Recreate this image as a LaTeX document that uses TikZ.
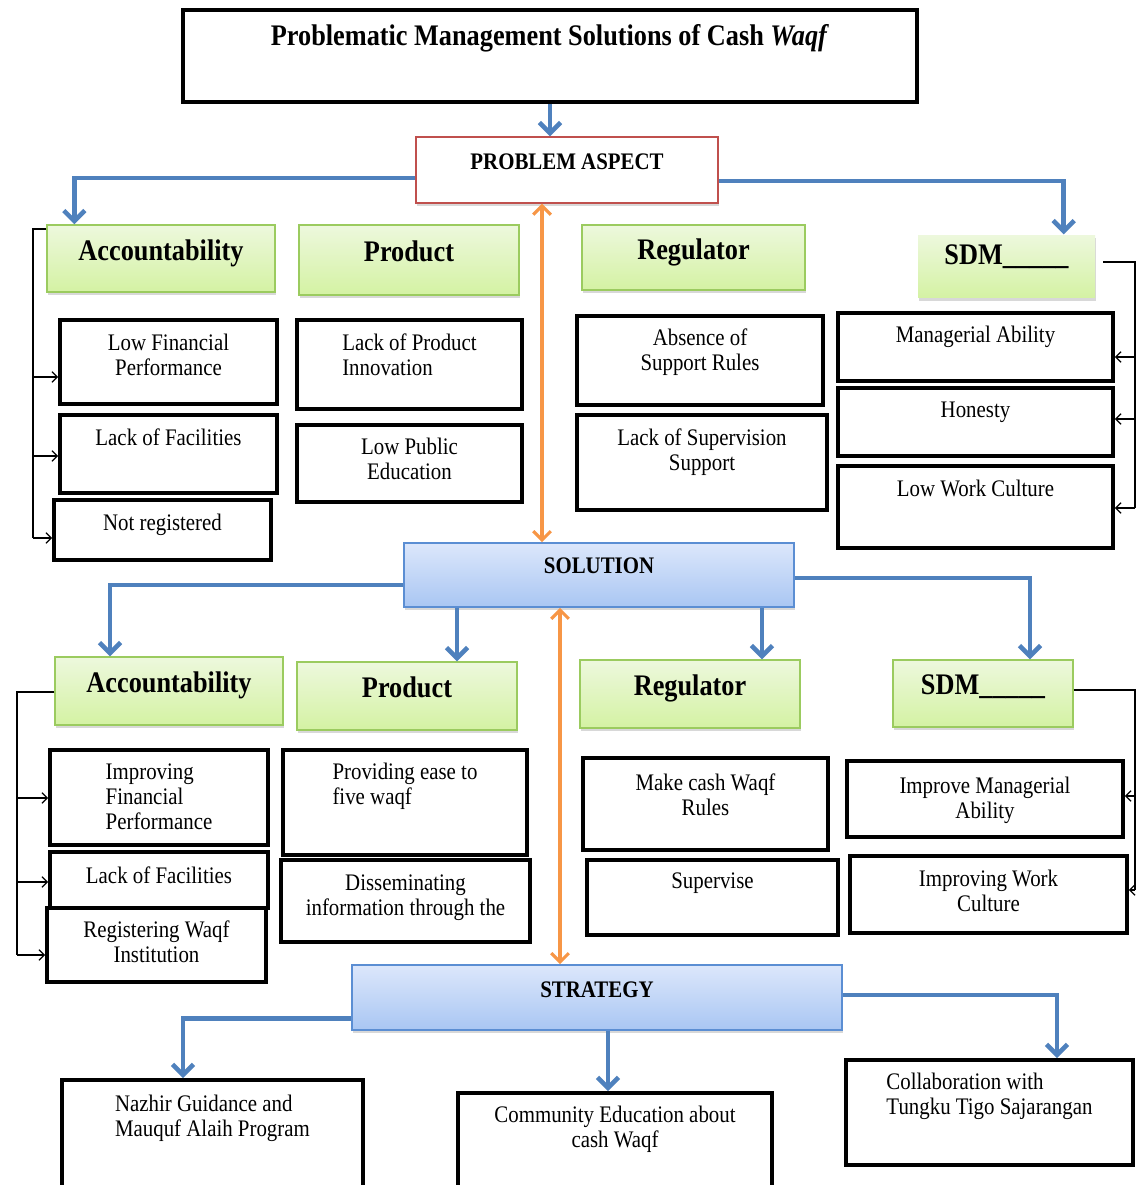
\documentclass[tikz,border=0pt]{standalone}
\usepackage{fontspec}
\setmainfont{Liberation Serif}[FakeStretch=0.88]
\usetikzlibrary{arrows.meta,shadows}

\definecolor{flowblue}{HTML}{4F81BD}
\definecolor{linkorange}{HTML}{F79646}
\definecolor{aspectred}{HTML}{C0504D}
\definecolor{headedge}{HTML}{9BCB5F}
\definecolor{headtop}{HTML}{EDF8DD}
\definecolor{headbot}{HTML}{D4F2A3}
\definecolor{maintop}{HTML}{DCE7FB}
\definecolor{mainbot}{HTML}{A9C6F3}
\definecolor{mainedge}{HTML}{5B8ED3}

\begin{document}
\begin{tikzpicture}[x=0.02cm, y=-0.02cm,
    titlebox/.style={draw, line width=2.4pt, inner sep=0pt, font=\fontsize{17}{20}\selectfont\bfseries},
    aspect/.style={draw=aspectred, line width=0.8pt, fill=white, inner sep=0pt,
      font=\fontsize{13.5}{16}\selectfont\bfseries,
      drop shadow={opacity=0.3, shadow xshift=0.6pt, shadow yshift=-1.5pt}},
    mainbox/.style={draw=mainedge, line width=0.9pt, top color=maintop, bottom color=mainbot, inner sep=0pt,
      font=\fontsize{13.5}{16}\selectfont\bfseries,
      drop shadow={opacity=0.3, shadow xshift=0.6pt, shadow yshift=-1.5pt}},
    headbox/.style={draw=headedge, line width=0.8pt, top color=headtop, bottom color=headbot, inner sep=0pt,
      text depth=10pt, font=\fontsize{17}{20}\selectfont\bfseries,
      drop shadow={opacity=0.3, shadow xshift=0.6pt, shadow yshift=-1.5pt}},
    itembox/.style={draw, line width=2.2pt, fill=white, align=center, inner sep=0pt,
      font=\fontsize{13.5}{14.2}\selectfont},
    flow/.style={draw=flowblue, line width=2.6pt, -{Straight Barb[length=6pt, width=12pt]}},
    link/.style={draw=linkorange, line width=1.8pt,
      {Straight Barb[length=5pt, width=10pt]}-{Straight Barb[length=5pt, width=10pt]}},
    tie/.style={line width=0.7pt},
    tiearrow/.style={tie, -{Straight Barb[length=3pt, width=6pt]}},
    lift/.style={text depth=#1}
  ]
  \useasboundingbox (0,0) rectangle (1137,1185);
  \clip (0,0) rectangle (1137,1185);
  \fill[white] (0,0) rectangle (1137,1185);

  \node (title) at (550,56) [titlebox, minimum width=14.68cm, minimum height=1.84cm, lift=24pt] {Problematic Management Solutions of Cash \textit{Waqf}};
  \node (pa) at (567,170) [aspect, minimum width=6.04cm, minimum height=1.32cm, lift=9pt] {PROBLEM ASPECT};

  % problem aspect
  \node (ha1) at (161,258.5) [headbox, minimum width=4.56cm, minimum height=1.34cm] {Accountability};
  \node (hp1) at (409,260) [headbox, minimum width=4.4cm, minimum height=1.4cm] {Product};
  \node (hr1) at (693.5,257.5) [headbox, minimum width=4.46cm, minimum height=1.3cm] {Regulator};
  \node (hs1) at (1006.5,266.5) [headbox, draw=none, minimum width=3.54cm, minimum height=1.26cm, lift=13pt] {SDM\_\_\_\_\_};

  \node (a1) at (168.5,362) [itembox, minimum width=4.34cm, minimum height=1.68cm, lift=7.8pt] {Low Financial\\Performance};
  \node (a2) at (168.5,454) [itembox, minimum width=4.34cm, minimum height=1.56cm, lift=19pt] {Lack of Facilities};
  \node (a3) at (162.5,530) [itembox, minimum width=4.34cm, minimum height=1.2cm, lift=9pt] {Not registered};
  \node (p1) at (409.5,364.5) [itembox, align=left, minimum width=4.5cm, minimum height=1.78cm, lift=10.8pt] {Lack of Product\\Innovation};
  \node (p2) at (409.5,463.5) [itembox, minimum width=4.5cm, minimum height=1.54cm, lift=5.8pt] {Low Public\\Education};
  \node (r1) at (700,360.5) [itembox, minimum width=4.92cm, minimum height=1.78cm, lift=12.8pt] {Absence of\\Support Rules};
  \node (r2) at (702,462.5) [itembox, minimum width=5cm, minimum height=1.9cm, lift=14.8pt] {Lack of Supervision\\Support};
  \node (s1) at (975.5,347) [itembox, minimum width=5.5cm, minimum height=1.36cm, lift=14pt] {Managerial Ability};
  \node (s2) at (975.5,422) [itembox, minimum width=5.5cm, minimum height=1.36cm, lift=14pt] {Honesty};
  \node (s3) at (975.5,507) [itembox, minimum width=5.5cm, minimum height=1.64cm, lift=21pt] {Low Work Culture};

  % solution
  \node (sol) at (599,575) [mainbox, minimum width=7.8cm, minimum height=1.28cm, lift=11pt] {SOLUTION};

  \node (ha2) at (169,691) [headbox, minimum width=4.56cm, minimum height=1.36cm] {Accountability};
  \node (hp2) at (407,696) [headbox, minimum width=4.4cm, minimum height=1.36cm] {Product};
  \node (hr2) at (690,694) [headbox, minimum width=4.4cm, minimum height=1.36cm] {Regulator};
  \node (hs2) at (983,693.5) [headbox, minimum width=3.6cm, minimum height=1.34cm] {SDM\_\_\_\_\_};

  \node (a4) at (159,797.5) [itembox, align=left, minimum width=4.36cm, minimum height=1.9cm, lift=0.6pt] {Improving\\Financial\\Performance};
  \node (a5) at (159,880) [itembox, minimum width=4.36cm, minimum height=1.12cm, lift=6pt] {Lack of Facilities};
  \node (a6) at (156.5,945) [itembox, minimum width=4.38cm, minimum height=1.48cm, lift=3.8pt] {Registering Waqf\\Institution};
  \node (p3) at (405,802.5) [itembox, align=left, minimum width=4.88cm, minimum height=2.1cm, lift=20.8pt] {Providing ease to\\five waqf};
  \node (p4) at (405.5,901) [itembox, minimum width=4.98cm, minimum height=1.64cm, lift=6.8pt] {Disseminating\\information through the};
  \node (r3) at (705.5,804) [itembox, minimum width=4.9cm, minimum height=1.84cm, lift=10.8pt] {Make cash Waqf\\Rules};
  \node (r4) at (712.5,897.5) [itembox, minimum width=5.02cm, minimum height=1.5cm, lift=19pt] {Supervise};
  \node (s4) at (985,799) [itembox, minimum width=5.52cm, minimum height=1.52cm, lift=1.8pt] {Improve Managerial\\Ability};
  \node (s5) at (988.5,894.5) [itembox, minimum width=5.54cm, minimum height=1.54cm, lift=3.8pt] {Improving Work\\Culture};

  % strategy
  \node (st) at (597,997.5) [mainbox, minimum width=9.8cm, minimum height=1.3cm, lift=9pt] {STRATEGY};

  \node (g1) at (212.5,1140) [itembox, align=left, minimum width=6.02cm, minimum height=2.4cm, lift=27.8pt] {Nazhir Guidance and\\Mauquf Alaih Program};
  \node (g2) at (615,1151.5) [itembox, minimum width=6.28cm, minimum height=2.34cm, lift=27.8pt] {Community Education about\\cash Waqf};
  \node (g3) at (989.5,1112.5) [itembox, align=left, minimum width=5.74cm, minimum height=2.1cm, lift=21.8pt] {Collaboration with\\Tungku Tigo Sajarangan};

  % blue arrows
  \draw[flow] (title.south) -- (title.south |- pa.north);
  \draw[flow] ([yshift=-0.16cm]pa.west) -| ([xshift=0.56cm]ha1.north west);
  \draw[flow] ([yshift=-0.22cm]pa.east) -| ([xshift=-0.64cm]hs1.north east);
  \draw[flow] ([yshift=-0.2cm]sol.west) -| ([xshift=-1.18cm]ha2.north);
  \coordinate (f1) at ([xshift=-2.84cm]sol.south);
  \coordinate (f2) at ([xshift=3.26cm]sol.south);
  \draw[flow] (f1) -- (f1 |- hp2.north);
  \draw[flow] (f2) -- (f2 |- hr2.north);
  \draw[flow] ([yshift=-0.06cm]sol.east) -| ([xshift=0.94cm]hs2.north);
  \draw[flow] ([yshift=-0.42cm]st.west) -| ([xshift=-0.59cm]g1.north);
  \coordinate (f3) at ([xshift=0.22cm]st.south);
  \draw[flow] (f3) -- (f3 |- g2.north);
  \draw[flow] ([yshift=0.05cm]st.east) -| ([xshift=1.35cm]g3.north);

  % orange links
  \coordinate (o1) at ([xshift=-0.5cm]pa.south);
  \coordinate (o2) at ([xshift=-0.78cm]sol.south);
  \draw[link] (o1) -- (o1 |- sol.north);
  \draw[link] (o2) -- (o2 |- st.north);

  % brackets
  \coordinate (lt1) at (33,229);
  \coordinate (lb1) at (33,538);
  \draw[tie] (ha1.west |- lt1) -- (lt1) -- (lb1);
  \foreach \y/\n in {377/a1,456/a2,538/a3}
    \draw[tiearrow] (33,\y) -- (\n.west |- 33,\y);

  \coordinate (rs1) at (1103,262);
  \coordinate (rt1) at (1135,262);
  \coordinate (rb1) at (1135,508);
  \draw[tie] (rs1) -- (rt1) -- (rb1);
  \foreach \y/\n in {357/s1,419/s2,508/s3}
    \draw[tiearrow] (1135,\y) -- (\n.east |- 1135,\y);

  \coordinate (lt2) at (17,692);
  \coordinate (lb2) at (17,955);
  \draw[tie] (ha2.west |- lt2) -- (lt2) -- (lb2);
  \foreach \y/\n in {798/a4,882/a5,955/a6}
    \draw[tiearrow] (17,\y) -- (\n.west |- 17,\y);

  \coordinate (rt2) at (1135,690);
  \coordinate (rb2) at (1135,890);
  \draw[tie] (hs2.east |- rt2) -- (rt2) -- (rb2);
  \foreach \y/\n in {796/s4,890/s5}
    \draw[tiearrow] (1135,\y) -- (\n.east |- 1135,\y);
\end{tikzpicture}
\end{document}
